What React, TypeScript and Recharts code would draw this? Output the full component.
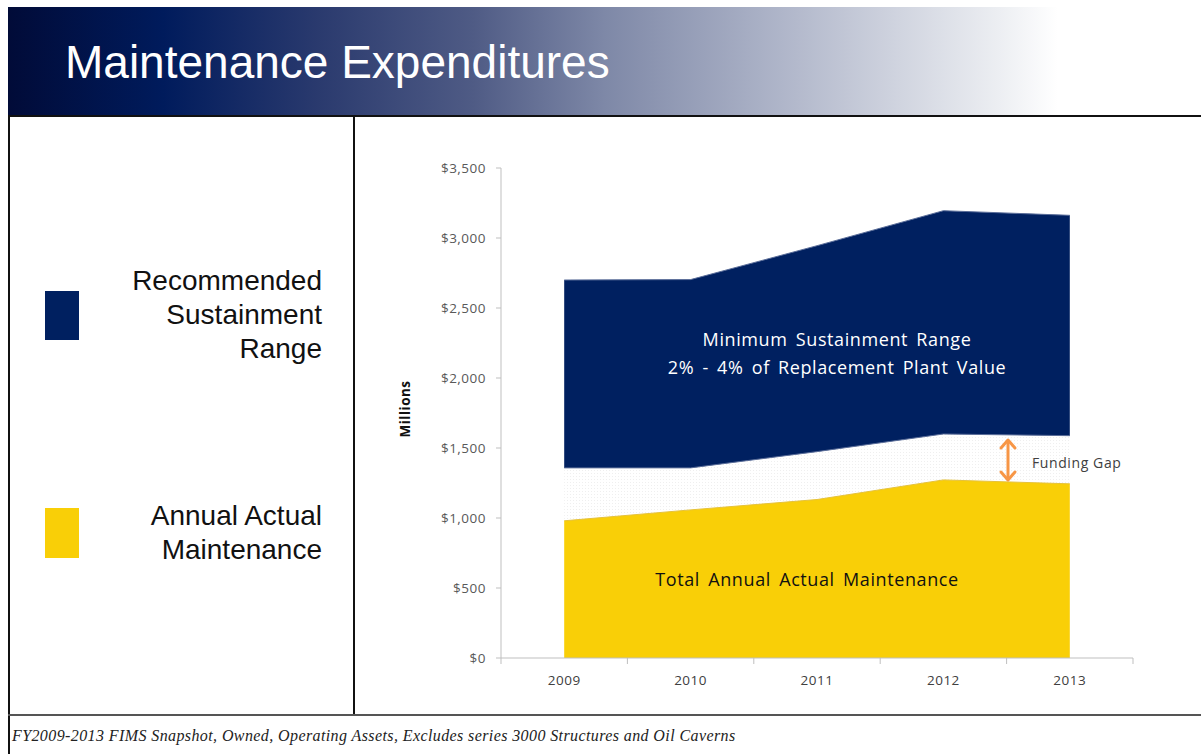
import React from 'react';
import { AreaChart, Area, XAxis, YAxis } from 'recharts';

const years = ['2009', '2010', '2011', '2012', '2013'];
const actualMaintenance = [980, 1058, 1132, 1272, 1244];
const sustainmentLow = [1358, 1358, 1474, 1600, 1588];
const sustainmentHigh = [2700, 2703, 2945, 3195, 3162];
const yTicks = [0, 500, 1000, 1500, 2000, 2500, 3000, 3500];

const chartData = years.map((year, i) => ({
  year,
  actual: actualMaintenance[i],
  gap: [actualMaintenance[i], sustainmentLow[i]],
  range: [sustainmentLow[i], sustainmentHigh[i]],
}));

const NAVY = '#002060';
const GOLD = '#F9CF07';
const AXIS = '#BFBFBF';
const SANS = '"Open Sans", Lato, sans-serif';

// chart geometry
const CHART_W = 841;
const CHART_H = 582;
const Y_AXIS_W = 141;
const MARGIN = { top: 52, right: 68, left: 0, bottom: 0 };
const PLOT_W = CHART_W - Y_AXIS_W - MARGIN.left - MARGIN.right;
const HALF_BAND = PLOT_W / years.length / 2;

const YearTick = (props: any) => {
  const { x, y, payload, index } = props;
  return (
    <g>
      <line x1={x - HALF_BAND} x2={x - HALF_BAND} y1={y} y2={y + 6} stroke={AXIS} />
      {index === years.length - 1 && (
        <line x1={x + HALF_BAND} x2={x + HALF_BAND} y1={y} y2={y + 6} stroke={AXIS} />
      )}
      <text
        x={x}
        y={y + 27}
        textAnchor="middle"
        fill="#404040"
        fontSize={13.5}
        letterSpacing={0.5}
        fontFamily={SANS}
      >
        {payload.value}
      </text>
    </g>
  );
};

const legendText: React.CSSProperties = {
  position: 'absolute',
  left: 22,
  width: 300,
  textAlign: 'right',
  fontFamily: '"Liberation Sans", Arial, sans-serif',
  fontSize: 28,
  lineHeight: '34px',
  color: '#111',
};

const bigNote: React.CSSProperties = {
  position: 'absolute',
  width: 400,
  textAlign: 'center',
  fontFamily: SANS,
  fontSize: 18,
  lineHeight: '28px',
  letterSpacing: 0.6,
  wordSpacing: 3,
};

export default function App() {
  return (
    <div
      style={{
        position: 'absolute',
        left: 0,
        top: 0,
        width: 1201,
        height: 754,
        overflow: 'hidden',
        background: '#fff',
      }}
    >
      {/* header */}
      <div
        style={{
          position: 'absolute',
          left: 8,
          top: 7,
          width: 1193,
          height: 109,
          background:
            'linear-gradient(to right, #010b38 0%, #001b5c 13%, #2a3a6e 26%, #4f5b85 39%, #7e88a7 50%, #b3b9cc 66%, #eceef2 83%, #ffffff 88%)',
        }}
      />
      <div
        style={{
          position: 'absolute',
          left: 65,
          top: 39,
          fontFamily: '"Liberation Sans", Arial, sans-serif',
          fontSize: 46,
          lineHeight: '46px',
          color: '#fff',
          whiteSpace: 'nowrap',
        }}
      >
        Maintenance Expenditures
      </div>

      {/* frame lines */}
      <div style={{ position: 'absolute', left: 8, top: 115, width: 1193, height: 2, background: '#111' }} />
      <div style={{ position: 'absolute', left: 8, top: 115, width: 2, height: 639, background: '#111' }} />
      <div style={{ position: 'absolute', left: 353, top: 115, width: 2, height: 601, background: '#111' }} />
      <div style={{ position: 'absolute', left: 8, top: 714, width: 1193, height: 2, background: '#555' }} />

      {/* legend panel */}
      <div style={{ position: 'absolute', left: 45, top: 291, width: 34, height: 49, background: NAVY }} />
      <div style={{ ...legendText, top: 264 }}>
        Recommended
        <br />
        Sustainment
        <br />
        Range
      </div>
      <div style={{ position: 'absolute', left: 45, top: 508, width: 34, height: 50, background: GOLD }} />
      <div style={{ ...legendText, top: 499 }}>
        Annual Actual
        <br />
        Maintenance
      </div>

      {/* chart */}
      <div style={{ position: 'absolute', left: 360, top: 116 }}>
        <AreaChart width={CHART_W} height={CHART_H} data={chartData} margin={MARGIN}>
          <defs>
            <pattern id="gapDots" width="3" height="3" patternUnits="userSpaceOnUse">
              <rect width="3" height="3" fill="#ffffff" />
              <rect x="0" y="0" width="1" height="1" fill="#efefef" />
            </pattern>
          </defs>
          <XAxis
            dataKey="year"
            interval={0}
            padding={{ left: HALF_BAND, right: HALF_BAND }}
            height={40}
            tickSize={0}
            tickMargin={0}
            tickLine={false}
            axisLine={{ stroke: AXIS }}
            tick={<YearTick />}
          />
          <YAxis
            width={Y_AXIS_W}
            domain={[0, 3500]}
            ticks={yTicks}
            interval={0}
            tickSize={5}
            tickMargin={10}
            axisLine={{ stroke: AXIS }}
            tickLine={{ stroke: AXIS }}
            tick={{ fill: '#595959', fontSize: 13.5, fontFamily: SANS, letterSpacing: 0.5 }}
            tickFormatter={(v: number) => `$${v.toLocaleString('en-US')}`}
          />
          <Area
            dataKey="gap"
            type="linear"
            stroke="none"
            fill="url(#gapDots)"
            fillOpacity={1}
            isAnimationActive={false}
          />
          <Area
            dataKey="actual"
            type="linear"
            stroke="#e6c23a"
            strokeWidth={1}
            fill={GOLD}
            fillOpacity={1}
            isAnimationActive={false}
          />
          <Area
            dataKey="range"
            type="linear"
            stroke="#5a6d99"
            strokeWidth={1}
            fill={NAVY}
            fillOpacity={1}
            isAnimationActive={false}
          />
        </AreaChart>
      </div>

      {/* axis title */}
      <div
        style={{
          position: 'absolute',
          left: 405,
          top: 409,
          transform: 'translate(-50%, -50%) rotate(-90deg)',
          fontFamily: SANS,
          fontWeight: 700,
          fontSize: 13.5,
          letterSpacing: 0.5,
          color: '#111',
          whiteSpace: 'nowrap',
        }}
      >
        Millions
      </div>

      {/* annotations */}
      <div style={{ ...bigNote, left: 637, top: 325, color: '#fff' }}>
        Minimum Sustainment Range
        <br />
        2% - 4% of Replacement Plant Value
      </div>
      <div style={{ ...bigNote, left: 607, top: 565, color: '#111' }}>
        Total Annual Actual Maintenance
      </div>
      <svg style={{ position: 'absolute', left: 995, top: 432 }} width={26} height={56}>
        <g stroke="#F79646" strokeWidth={3} fill="none" strokeLinecap="round" strokeLinejoin="round">
          <line x1={13} y1={9} x2={13} y2={47} />
          <polyline points="6,16 13,8 20,16" />
          <polyline points="6,40 13,48 20,40" />
        </g>
      </svg>
      <div
        style={{
          position: 'absolute',
          left: 1032,
          top: 453,
          fontFamily: SANS,
          fontSize: 14,
          letterSpacing: 0.6,
          lineHeight: '20px',
          color: '#404040',
          whiteSpace: 'nowrap',
        }}
      >
        Funding Gap
      </div>

      {/* footer */}
      <div
        style={{
          position: 'absolute',
          left: 12,
          top: 726,
          fontFamily: '"Liberation Serif", "DejaVu Serif", serif',
          fontStyle: 'italic',
          fontSize: 16,
          letterSpacing: 0.4,
          lineHeight: '20px',
          color: '#222',
          whiteSpace: 'nowrap',
        }}
      >
        FY2009-2013 FIMS Snapshot, Owned, Operating Assets, Excludes series 3000 Structures and Oil Caverns
      </div>
    </div>
  );
}
